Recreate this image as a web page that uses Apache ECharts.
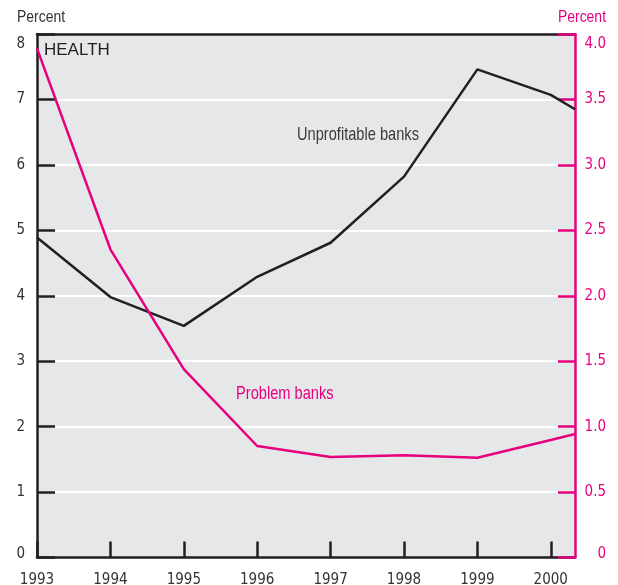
<!DOCTYPE html>
<html>
<head>
<meta charset="utf-8">
<style>
html,body{margin:0;padding:0;background:#fff;}
#chart{width:618px;height:585px;}
</style>
<script src="https://cdn.jsdelivr.net/npm/echarts@6/dist/echarts.min.js"></script>
</head>
<body>
<div id="chart"></div>
<script>
// Data
var years = [1993, 1994, 1995, 1996, 1997, 1998, 1999, 2000, 2000.33];
var unprofitableBanks = [4.89, 3.98, 3.54, 4.29, 4.81, 5.82, 7.46, 7.07, 6.85];
var problemBanks = [3.89, 2.355, 1.44, 0.852, 0.768, 0.781, 0.762, 0.898, 0.944];
var leftTicks = [0, 1, 2, 3, 4, 5, 6, 7, 8];
var rightTicks = ['0', '0.5', '1.0', '1.5', '2.0', '2.5', '3.0', '3.5', '4.0'];

var MAG = '#e6007e';
var INK = '#231f20';
var TXT = '#333333';
var COND = "'DejaVu Sans Condensed', 'Liberation Sans Narrow', sans-serif";
var SANS = "'Liberation Sans', Arial, sans-serif";
var FS = 15;

function pairs(xs, ys) { return xs.map(function (x, i) { return [x, ys[i]]; }); }

var chart = echarts.init(document.getElementById('chart'), null, {renderer: 'canvas'});
chart.setOption({
  animation: false,
  grid: {
    left: 37, right: 43, top: 34, bottom: 27.5,
    outerBoundsMode: 'none', containLabel: false,
    show: true, backgroundColor: '#e6e7e9',
    borderColor: INK, borderWidth: 0
  },
  xAxis: [{
    type: 'value', min: 1993, max: 2000.33, interval: 1, position: 'bottom',
    axisLine: {show: true, lineStyle: {color: INK, width: 2.5}},
    axisTick: {show: true, inside: true, length: 16, lineStyle: {color: INK, width: 2.5}},
    splitLine: {show: false},
    axisLabel: {
      color: TXT, fontFamily: COND, fontSize: FS, margin: 15,
      formatter: function (v) { return Number.isInteger(v) ? String(v) : ''; },
      showMaxLabel: false
    },
    z: 2
  }, {
    type: 'value', min: 1993, max: 2000.33, position: 'top',
    axisLine: {show: true, onZero: false, lineStyle: {color: INK, width: 2.5}},
    axisTick: {show: false}, axisLabel: {show: false}, splitLine: {show: false},
    z: 2
  }],
  yAxis: [{
    type: 'value', min: 0, max: 8, interval: 1, position: 'left',
    axisLine: {show: true, lineStyle: {color: INK, width: 2.5}},
    axisTick: {show: true, inside: true, length: 18, lineStyle: {color: INK, width: 2.5}},
    splitLine: {show: true, lineStyle: {color: '#ffffff', width: 2}},
    axisLabel: {
      color: TXT, fontFamily: COND, fontSize: FS, margin: 12,
      formatter: function (v) {
        var s = String(leftTicks[leftTicks.indexOf(v)]);
        if (v === 8) return '{mx|' + s + '}';
        if (v === 0) return '{mn|' + s + '}';
        return s;
      },
      rich: {
        mx: {padding: [20, 0, 0, 0], fontSize: FS, fontFamily: COND, color: TXT},
        mn: {padding: [0, 0, 6, 0], fontSize: FS, fontFamily: COND, color: TXT}
      }
    }
  }, {
    type: 'value', min: 0, max: 4, interval: 0.5, position: 'right',
    axisLine: {show: true, lineStyle: {color: MAG, width: 2.5}},
    axisTick: {show: true, inside: true, length: 17, lineStyle: {color: MAG, width: 2.5}},
    splitLine: {show: false},
    axisLabel: {
      color: MAG, fontFamily: COND, fontSize: FS, margin: 31, align: 'right',
      formatter: function (v) {
        var s = rightTicks[Math.round(v * 2)];
        if (v === 4) return '{mx|' + s + '}';
        if (v === 0) return '{mn|' + s + '}';
        return s;
      },
      rich: {
        mx: {padding: [20, 0, 0, 0], fontSize: FS, fontFamily: COND, color: MAG},
        mn: {padding: [0, 0, 6, 0], fontSize: FS, fontFamily: COND, color: MAG}
      }
    },
    z: 3
  }],
  series: [{
    name: 'Unprofitable banks', type: 'line', xAxisIndex: 0, yAxisIndex: 0,
    data: pairs(years, unprofitableBanks),
    symbol: 'none', lineStyle: {color: INK, width: 2.5}, z: 3
  }, {
    name: 'Problem banks', type: 'line', xAxisIndex: 0, yAxisIndex: 1,
    data: pairs(years, problemBanks),
    symbol: 'none', lineStyle: {color: MAG, width: 2.5}, z: 4
  }],
  graphic: [
    {type: 'text', x: 17, y: 17, scaleX: 0.82,
     style: {text: 'Percent', fill: TXT, font: "17px " + SANS, align: 'left', verticalAlign: 'middle'}},
    {type: 'text', x: 606, y: 17, scaleX: 0.82,
     style: {text: 'Percent', fill: MAG, font: "17px " + SANS, align: 'right', verticalAlign: 'middle'}},
    {type: 'text', x: 44, y: 50, z: 10,
     style: {text: 'HEALTH', fill: INK, font: "17px " + SANS, align: 'left', verticalAlign: 'middle'}},
    {type: 'text', x: 297, y: 135, scaleX: 0.77, z: 10,
     style: {text: 'Unprofitable banks', fill: '#3a3a3a', font: "19px " + SANS, align: 'left', verticalAlign: 'middle'}},
    {type: 'text', x: 236, y: 394, scaleX: 0.77, z: 10,
     style: {text: 'Problem banks', fill: MAG, font: "19px " + SANS, align: 'left', verticalAlign: 'middle'}}
  ]
});
</script>
</body>
</html>
